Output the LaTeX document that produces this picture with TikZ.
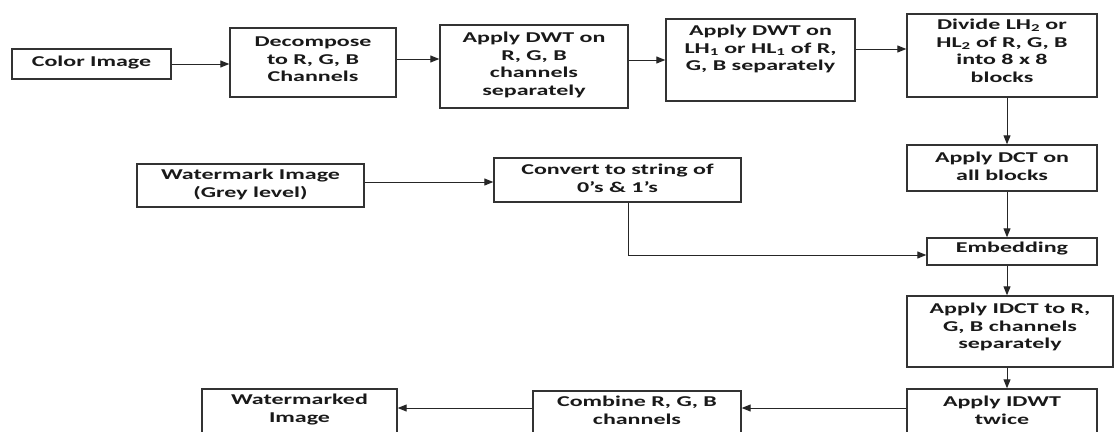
\documentclass[tikz,border=0pt]{standalone}
\usepackage{fontspec}
\newfontfamily\boxfont[FakeStretch=1.6]{Carlito}
\usetikzlibrary{arrows.meta}
\begin{document}
\begin{tikzpicture}[x=1pt,y=-1pt,
  box/.style={draw=black!80,line width=1.4pt,inner sep=0pt},
  txt/.style={anchor=north,inner sep=0pt,align=center,text=black!90,
    font=\boxfont\bfseries\fontsize{15}{17.5}\selectfont},
  arr/.style={draw=black!85,line width=1pt,-{Triangle[length=9pt,width=7pt]}}]
\fill[white] (0,0) rectangle (1115,431);
\clip (0,0) rectangle (1115,431);
\newcommand\st{\rule{0pt}{13pt}}
% boxes
\node[box,minimum width=159pt,minimum height=30pt] (color) at (91.5,64) {};
\node[box,minimum width=166pt,minimum height=69pt] (decomp) at (313,62.5) {};
\node[box,minimum width=188pt,minimum height=83pt] (dwta) at (534,66.5) {};
\node[box,minimum width=189pt,minimum height=82pt] (dwtb) at (760.5,60) {};
\node[box,minimum width=190pt,minimum height=83pt] (divide) at (1002,55.5) {};
\node[box,minimum width=190pt,minimum height=46pt] (dct) at (1002,168) {};
\node[box,minimum width=227pt,minimum height=43pt] (wm) at (250.5,185.5) {};
\node[box,minimum width=247pt,minimum height=44pt] (conv) at (617.5,180) {};
\node[box,minimum width=170pt,minimum height=27pt] (embed) at (1012,251.5) {};
\node[box,minimum width=206pt,minimum height=71pt] (idct) at (1010,331.5) {};
\node[box,minimum width=190pt,minimum height=56pt] (idwt) at (1002,417) {};
\node[box,minimum width=208pt,minimum height=54pt] (comb) at (637,418) {};
\node[box,minimum width=195pt,minimum height=56pt] (wmk) at (299.5,417) {};
% texts
\node[txt] at ([yshift=-5pt]color.north) {\st Color Image};
\node[txt] at ([yshift=-6pt]decomp.north) {\st Decompose\\to R, G, B\\Channels};
\node[txt] at ([yshift=-5pt]dwta.north) {\st Apply DWT on\\R, G, B\\channels\\separately};
\node[txt] at ([yshift=-4pt]dwtb.north) {\st Apply DWT on\\LH\textsubscript{1} or HL\textsubscript{1} of R,\\G, B separately};
\node[txt] at ([yshift=-3pt]divide.north) {\st Divide LH\textsubscript{2} or\\HL\textsubscript{2} of R, G, B\\into 8 x 8\\blocks};
\node[txt] at ([yshift=-5pt]dct.north) {\st Apply DCT on\\all blocks};
\node[txt] at ([yshift=-3pt]wm.north) {\st Watermark Image\\(Grey level)};
\node[txt] at ([yshift=-4pt]conv.north) {\st Convert to string of\\0’s \& 1’s};
\node[txt] at ([yshift=-2pt]embed.north) {\st Embedding};
\node[txt] at ([yshift=-5pt]idct.north) {\st Apply IDCT to R,\\G, B channels\\separately};
\node[txt] at ([yshift=-5pt]idwt.north) {\st Apply IDWT\\twice};
\node[txt] at ([yshift=-3pt]comb.north) {\st Combine R, G, B\\channels};
\node[txt] at ([yshift=-3pt]wmk.north) {\st Watermarked\\Image};
% helper coordinates
\coordinate (ra) at (0,64);
\coordinate (rb) at (0,59);
\coordinate (rc) at (0,60);
\coordinate (rd) at (0,49);
\coordinate (re) at (0,182);
\coordinate (rf) at (0,255);
\coordinate (rg) at (0,408);
\coordinate (ca) at (1007,0);
\coordinate (cb) at (628,0);
% connectors
\draw[arr] (color.east |- ra) -- (decomp.west |- ra);
\draw[arr] (decomp.east |- rb) -- (dwta.west |- rb);
\draw[arr] (dwta.east |- rc) -- (dwtb.west |- rc);
\draw[arr] (dwtb.east |- rd) -- (divide.west |- rd);
\draw[arr] (divide.south -| ca) -- (dct.north -| ca);
\draw[arr] (wm.east |- re) -- (conv.west |- re);
\draw[arr] (conv.south -| cb) -- (cb |- rf) -- (embed.west |- rf);
\draw[arr] (dct.south -| ca) -- (embed.north -| ca);
\draw[arr] (embed.south -| ca) -- (idct.north -| ca);
\draw[arr] (idct.south -| ca) -- (idwt.north -| ca);
\draw[arr] (idwt.west |- rg) -- (comb.east |- rg);
\draw[arr] (comb.west |- rg) -- (wmk.east |- rg);
\end{tikzpicture}
\end{document}
